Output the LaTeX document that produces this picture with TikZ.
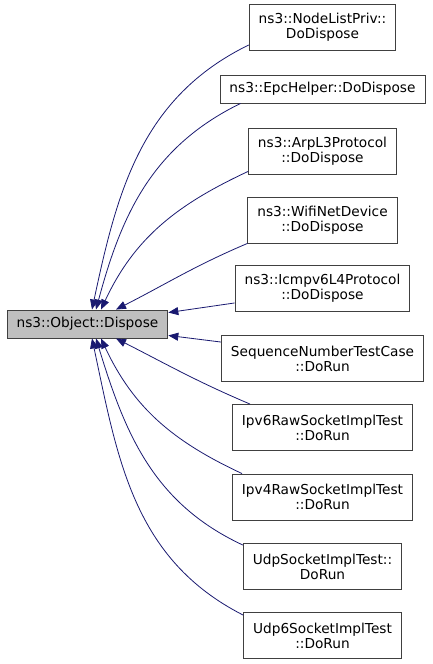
\documentclass[tikz,border=0pt]{standalone}
\usepackage{fontspec}
\setmainfont{DejaVu Sans}
\usetikzlibrary{positioning,arrows.meta}
\definecolor{edgeblue}{HTML}{191970}
\definecolor{boxgray}{HTML}{BFBFBF}

\begin{document}
\begin{tikzpicture}[
    x=1pt, y=1pt,
    >={Triangle[length=10pt,width=8pt]},
    fn/.style={rectangle, draw=black!75, line width=0.9pt, fill=white, align=center, inner xsep=9.5pt, inner ysep=0pt, minimum height=28pt, font=\fontsize{13.7}{15}\selectfont},
    fn2/.style={fn, minimum height=46pt},
    call/.style={->, draw=edgeblue, line width=0.8pt}
]
\useasboundingbox (0,0) rectangle (432,-664);

% callers
\node[fn2] (nlp) at (322.5,-27.5) {ns3::NodeListPriv::\\DoDispose};
\node[fn] (epc) at (322.5,-89) {ns3::EpcHelper::DoDispose};
\node[fn2] (arp) at (322.5,-151) {ns3::ArpL3Protocol\\::DoDispose};
\node[fn2] (wifi) at (322.5,-220) {ns3::WifiNetDevice\\::DoDispose};
\node[fn2] (icmp) at (322.5,-288.5) {ns3::Icmpv6L4Protocol\\::DoDispose};
\node[fn2] (seq) at (322.5,-358.5) {SequenceNumberTestCase\\::DoRun};
\node[fn2] (ipv6) at (322.5,-427.5) {Ipv6RawSocketImplTest\\::DoRun};
\node[fn2] (ipv4) at (322.5,-497) {Ipv4RawSocketImplTest\\::DoRun};
\node[fn2] (udp) at (322.5,-566.5) {UdpSocketImplTest::\\DoRun};
\node[fn2] (udp6) at (322.5,-635.5) {Udp6SocketImplTest\\::DoRun};

% callee
\node[fn, fill=boxgray] (obj) at (87.5,-324) {ns3::Object::Dispose};

% calls from above
\draw[call] ([yshift=6pt]nlp.south west) to[out=206,in=78] ([xshift=4.5pt]obj.north);
\draw[call] ([xshift=21pt]epc.south west) to[out=206,in=75] ([xshift=8.5pt]obj.north);
\draw[call] ([yshift=3pt]arp.south west) to[out=205,in=65] ([xshift=13.5pt]obj.north);
\draw[call] (wifi.south west) to[out=203,in=27] ([xshift=28.5pt]obj.north);
\draw[call] ([yshift=9pt]icmp.south west) -- ([yshift=-3pt]obj.north east);

% calls from below
\draw[call] ([yshift=-7pt]seq.north west) -- ([yshift=3pt]obj.south east);
\draw[call] ([xshift=18pt]ipv6.north west) to[out=157,in=-27] ([xshift=28.5pt]obj.south);
\draw[call] ([xshift=10pt]ipv4.north west) to[out=155,in=-65] ([xshift=13.5pt]obj.south);
\draw[call] ([yshift=-2pt]udp.north west) to[out=155,in=-73] ([xshift=8.5pt]obj.south);
\draw[call] ([yshift=-3pt]udp6.north west) to[out=153,in=-78] ([xshift=4.5pt]obj.south);
\end{tikzpicture}
\end{document}
